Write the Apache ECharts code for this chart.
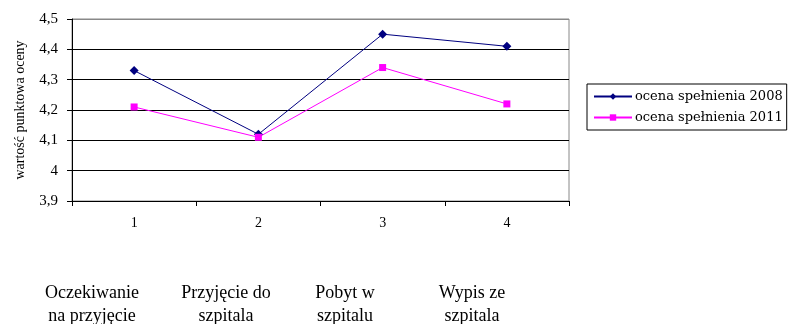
<!DOCTYPE html>
<html>
<head>
<meta charset="utf-8">
<script src="https://cdn.jsdelivr.net/npm/echarts@6/dist/echarts.min.js"></script>
<style>html,body{margin:0;padding:0;background:#fff}#chart{width:789px;height:324px}</style>
</head>
<body>
<div id="chart"></div>
<script>
// Stage numbers on the axis and the stage descriptions printed below
const categories = ['1', '2', '3', '4'];
const stageNames = ['Oczekiwanie\nna przyjęcie', 'Przyjęcie do\nszpitala', 'Pobyt w\nszpitalu', 'Wypis ze\nszpitala'];
const stageNameX = [92, 226, 345, 472];

// Mean scores per stage
const seriesNames = ['ocena spełnienia 2008', 'ocena spełnienia 2011'];
const scores2008 = [4.33, 4.12, 4.45, 4.41];
const scores2011 = [4.21, 4.11, 4.34, 4.22];

const yTicks = { min: 3.9, max: 4.5, interval: 0.1 };

const serif = "'Liberation Serif', 'Times New Roman', Times, serif";
const wideSerif = "'DejaVu Serif', serif";
const chart = echarts.init(document.getElementById('chart'), null, { renderer: 'canvas' });

chart.setOption({
  animation: false,
  backgroundColor: '#fff',
  grid: {
    left: 72, right: 220, top: 19, bottom: 123,
    show: true, borderColor: '#888', borderWidth: 1
  },
  legend: {
    orient: 'vertical',
    left: 587, top: 84,
    padding: [6, 4, 6, 6],
    itemGap: 8,
    itemWidth: 38,
    itemHeight: 8,
    borderColor: '#000', borderWidth: 1,
    textStyle: { fontFamily: wideSerif, fontSize: 13, color: '#000', padding: [0, 0, 0, -2] },
    data: seriesNames
  },
  xAxis: {
    type: 'category',
    data: categories,
    boundaryGap: true,
    axisLine: { lineStyle: { color: '#000', width: 1 } },
    axisTick: { show: true, length: 5, lineStyle: { color: '#000' } },
    axisLabel: { color: '#000', fontFamily: serif, fontSize: 14, margin: 15 },
    splitLine: { show: false }
  },
  yAxis: {
    type: 'value',
    min: yTicks.min, max: yTicks.max, interval: yTicks.interval,
    name: 'wartość punktowa oceny',
    nameLocation: 'middle',
    nameRotate: 90,
    nameGap: 45,
    nameTextStyle: { fontFamily: serif, fontSize: 14, color: '#000' },
    axisLine: { show: true, lineStyle: { color: '#000', width: 1 } },
    axisTick: { show: true, inside: false, length: 5, lineStyle: { color: '#000' } },
    axisLabel: {
      color: '#000', fontFamily: serif, fontSize: 15, margin: 14,
      formatter: v => (Math.round(v * 10) / 10).toString().replace('.', ',')
    },
    splitLine: { show: true, lineStyle: { color: ['#000', '#000', '#000', '#000', '#000', '#000', '#888'], width: 1 } }
  },
  series: [
    {
      name: seriesNames[0], type: 'line', data: scores2008,
      symbol: 'diamond', symbolSize: 9,
      itemStyle: { color: '#000080' },
      lineStyle: { color: '#000080', width: 1 }
    },
    {
      name: seriesNames[1], type: 'line', data: scores2011,
      symbol: 'rect', symbolSize: 7,
      itemStyle: { color: '#FF00FF' },
      lineStyle: { color: '#FF00FF', width: 1 }
    }
  ],
  graphic: stageNames.map((t, i) => ({
    type: 'text',
    x: stageNameX[i], y: 282,
    style: {
      text: t, fill: '#000', fontFamily: serif, fontSize: 18,
      align: 'center', lineHeight: 23
    }
  }))
});
</script>
</body>
</html>
